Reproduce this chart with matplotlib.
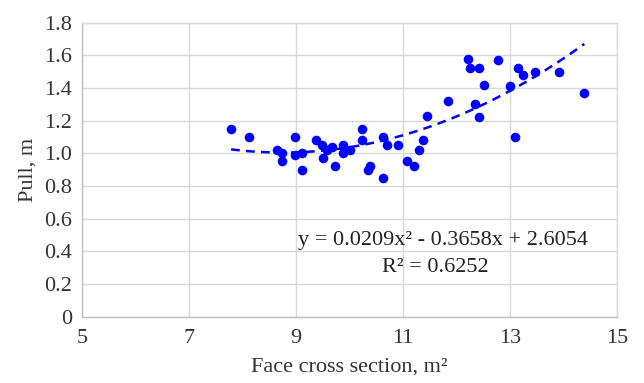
"""Pull vs face cross section scatter with quadratic trendline."""

import matplotlib
matplotlib.use("Agg")
import matplotlib.pyplot as plt
import numpy as np

# Measured points (face cross section, m2 ; pull, m)
area = [7.79, 8.13, 8.65, 8.74, 8.74, 8.99, 8.99, 9.12, 9.12, 9.37,
        9.49, 9.58, 9.50, 9.67, 9.74, 9.88, 9.88, 10.01, 10.24, 10.24,
        10.38, 10.35, 10.63, 10.71, 10.63, 10.91, 11.07, 11.20, 11.30, 11.38,
        11.45, 11.84, 12.22, 12.26, 12.43, 12.52, 12.35, 12.43, 12.77, 13.01,
        13.09, 13.15, 13.25, 13.47, 13.92, 14.39]
pull = [1.15, 1.10, 1.02, 1.00, 0.95, 1.10, 0.99, 1.00, 0.90, 1.08,
        1.05, 1.02, 0.97, 1.04, 0.92, 1.05, 1.00, 1.02, 1.15, 1.08,
        0.92, 0.90, 1.10, 1.05, 0.85, 1.05, 0.95, 0.92, 1.02, 1.08,
        1.23, 1.32, 1.58, 1.52, 1.52, 1.42, 1.30, 1.22, 1.57, 1.41,
        1.10, 1.52, 1.48, 1.50, 1.50, 1.37]

# Trendline coefficients as printed on the chart
coef = [0.0209, -0.3658, 2.6054]
r2 = 0.6252

x_ticks = [5, 7, 9, 11, 13, 15]
y_ticks = [0, 0.2, 0.4, 0.6, 0.8, 1.0, 1.2, 1.4, 1.6, 1.8]
y_labels = ["0", "0.2", "0.4", "0.6", "0.8", "1.0", "1.2", "1.4", "1.6", "1.8"]

plt.rcParams["font.family"] = ["Liberation Serif", "DejaVu Serif"]
FS = 16

fig = plt.figure(figsize=(6.44, 3.83), dpi=100, facecolor="white")
ax = fig.add_axes([0.127, 0.173, 0.831, 0.768])

ax.set_xlim(5, 15)
ax.set_ylim(0, 1.8)
ax.set_xticks(x_ticks)
ax.set_yticks(y_ticks)
ax.set_yticklabels(y_labels)
ax.tick_params(length=0, labelsize=FS, colors="#333333")
ax.tick_params(axis="x", pad=9)
ax.tick_params(axis="y", pad=7)
ax.grid(color="#d9d9d9", linewidth=1)
ax.set_axisbelow(True)
for side, spine in ax.spines.items():
    spine.set_color("#d9d9d9" if side in ("top", "right") else "#bfbfbf")
    spine.set_linewidth(1)

xs = np.linspace(min(area), max(area), 100)
ax.plot(xs, np.polyval(coef, xs), color="#0000ff", linestyle=(0, (3.5, 2.5)), linewidth=1.8)
ax.scatter(area, pull, s=48, color="#0000ff", zorder=3, linewidths=0)

ax.text(9.04, 0.465,
        f"y = {coef[0]:.4f}x² - {abs(coef[1]):.4f}x + {coef[2]:.4f}",
        fontsize=FS, va="center", ha="left", color="#222222")
ax.text(11.6, 0.30, f"R² = {r2:.4f}", fontsize=FS, va="center", ha="center", color="#222222")

ax.set_xlabel("Face cross section, m²", fontsize=FS, color="#333333", labelpad=7)
ax.set_ylabel("Pull, m", fontsize=FS, color="#333333", labelpad=5)

fig.savefig("out.png", dpi=100, facecolor=fig.get_facecolor())
plt.close(fig)
